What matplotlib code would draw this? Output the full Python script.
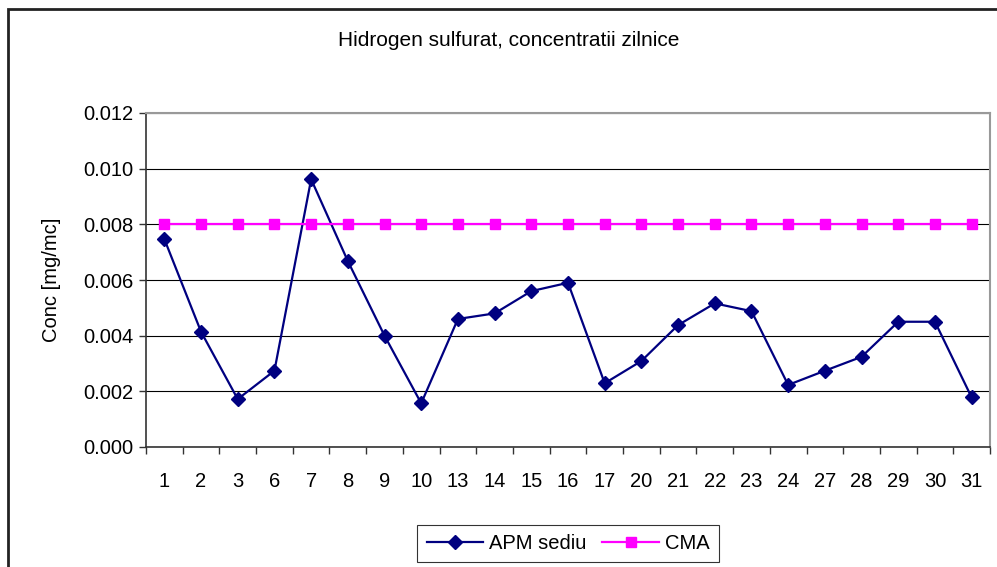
import matplotlib
matplotlib.use('Agg')
import matplotlib.pyplot as plt
from matplotlib.patches import Rectangle
import numpy as np

# zilele cu masuratori
zile = ['1', '2', '3', '6', '7', '8', '9', '10', '13', '14', '15', '16',
        '17', '20', '21', '22', '23', '24', '27', '28', '29', '30', '31']
# concentratii APM sediu [mg/mc]
apm_sediu = [0.00747, 0.00414, 0.00172, 0.00274, 0.00962, 0.00668, 0.00400,
             0.00157, 0.00460, 0.00480, 0.00560, 0.00590, 0.00229, 0.00309,
             0.00438, 0.00516, 0.00488, 0.00223, 0.00274, 0.00324, 0.00450,
             0.00450, 0.00178]
# concentratia maxima admisa
cma = [0.008] * len(zile)

plt.rcParams['font.family'] = ['Liberation Sans', 'DejaVu Sans']
fs = 14.5

fig = plt.figure(figsize=(9.97, 5.67), dpi=100, facecolor='white')
ax = fig.add_axes([146/997, 1 - 447/567, (990 - 146)/997, (447 - 113)/567])

x = np.arange(len(zile))
ax.plot(x, apm_sediu, color='#000080', linewidth=1.6, marker='D',
        markersize=7, label='APM sediu', zorder=3)
ax.plot(x, cma, color='#FF00FF', linewidth=1.6, marker='s',
        markersize=7.5, label='CMA', zorder=3)

ax.set_xlim(-0.5, len(zile) - 0.5)
ax.set_ylim(0, 0.012)
ax.set_yticks(np.arange(0, 0.0121, 0.002))
ax.set_yticklabels([f'{v:.3f}' for v in np.arange(0, 0.0121, 0.002)])
ax.yaxis.grid(True, color='black', linewidth=0.8)
ax.set_axisbelow(True)

ax.set_xticks(x)
ax.set_xticklabels(zile)
ax.set_xticks(np.arange(-0.5, len(zile), 1), minor=True)
ax.tick_params(axis='x', which='major', length=0, pad=18, labelsize=fs)
ax.tick_params(axis='x', which='minor', length=5, width=1, direction='out', color='#333333')
ax.tick_params(axis='y', length=5, width=1, direction='out', color='#333333', labelsize=fs, pad=4)

for s in ['left', 'bottom']:
    ax.spines[s].set_color('#333333')
    ax.spines[s].set_linewidth(1.2)
for s in ['top', 'right']:
    ax.spines[s].set_color('#999999')
    ax.spines[s].set_linewidth(1.5)

ax.set_ylabel('Conc [mg/mc]', fontsize=fs, labelpad=16)
fig.text(0.51, 1 - 41/567, 'Hidrogen sulfurat, concentratii zilnice',
         ha='center', va='center', fontsize=15)

leg = ax.legend(loc='center', bbox_to_anchor=(568/997, 1 - 543.5/567),
                bbox_transform=fig.transFigure, ncol=2, fontsize=fs,
                frameon=True, fancybox=False, edgecolor='black',
                handlelength=2.8, columnspacing=0.8, handletextpad=0.3,
                borderpad=0.45)
leg.get_frame().set_linewidth(0.8)

# chenarul graficului (iese din imagine in dreapta si jos)
fig.patches.append(Rectangle((8/997, -0.1), 1.2, 1 - 9/567 + 0.1,
                             transform=fig.transFigure, fill=False,
                             edgecolor='#222222', linewidth=2))

fig.savefig('out.png', dpi=100)
